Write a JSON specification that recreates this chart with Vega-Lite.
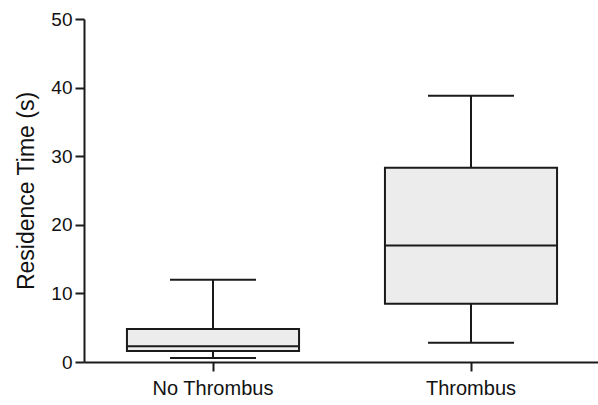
{
  "$schema": "https://vega.github.io/schema/vega-lite/v6.json",
  "width": 516,
  "height": 343,
  "autosize": "none",
  "padding": {"left": 84, "top": 19, "right": 0, "bottom": 43},
  "background": "white",
  "data": {"values": [
    {"group": "No Thrombus", "lower": 0.6, "q1": 1.6, "median": 2.3, "q3": 4.8, "upper": 12.0},
    {"group": "Thrombus", "lower": 2.8, "q1": 8.5, "median": 17.0, "q3": 28.3, "upper": 38.8}
  ]},
  "config": {
    "view": {"stroke": null},
    "font": "Liberation Sans"
  },
  "encoding": {
    "x": {"field": "group", "type": "nominal", "sort": null,
      "scale": {"paddingInner": 0, "paddingOuter": 0},
      "axis": {"title": null, "labelAngle": 0, "labelPadding": 7, "labelFontSize": 20, "labelColor": "#111111",
        "grid": false, "domainColor": "#1a1a1a", "domainWidth": 2, "tickColor": "#1a1a1a", "tickWidth": 2, "tickSize": 9}}
  },
  "layer": [
    {"mark": {"type": "rule", "color": "#1a1a1a", "strokeWidth": 2},
     "encoding": {"y": {"field": "lower", "type": "quantitative",
        "scale": {"domain": [0, 50]},
        "axis": {"title": "Residence Time (s)", "titleFontSize": 23, "titleFontWeight": "normal", "titleColor": "#111111", "titlePadding": 12,
          "values": [0, 10, 20, 30, 40, 50], "labelPadding": 3, "labelFontSize": 19, "labelColor": "#111111",
          "grid": false, "domainColor": "#1a1a1a", "domainWidth": 2, "tickColor": "#1a1a1a", "tickWidth": 2, "tickSize": 9}},
      "y2": {"field": "upper"}}},
    {"mark": {"type": "bar", "fill": "#ececec", "stroke": "#1a1a1a", "strokeWidth": 2, "width": {"band": 0.667}},
     "encoding": {"y": {"field": "q1", "type": "quantitative"}, "y2": {"field": "q3"}}},
    {"mark": {"type": "tick", "color": "#1a1a1a", "opacity": 1, "thickness": 2, "size": 172},
     "encoding": {"y": {"field": "median", "type": "quantitative"}}},
    {"mark": {"type": "tick", "color": "#1a1a1a", "opacity": 1, "thickness": 2, "size": 86},
     "encoding": {"y": {"field": "upper", "type": "quantitative"}}},
    {"mark": {"type": "tick", "color": "#1a1a1a", "opacity": 1, "thickness": 2, "size": 86},
     "encoding": {"y": {"field": "lower", "type": "quantitative"}}}
  ]
}
